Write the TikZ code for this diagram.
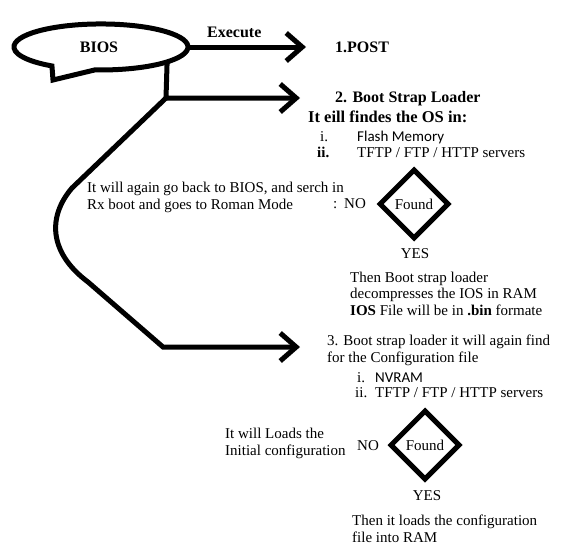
\documentclass[tikz,border=0pt]{standalone}
\usepackage{fontspec}
\setmainfont{Liberation Serif}
\newfontfamily\calfont{Carlito}
\usetikzlibrary{arrows.meta,shapes.geometric}
\begin{document}
\begin{tikzpicture}[x=1pt,y=-1pt,
  thickline/.style={line width=5pt},
  arr/.style={thickline,-{Straight Barb[length=16pt,width=28pt]}},
  txt/.style={inner sep=0pt,anchor=base west,font=\fontsize{15}{17}\selectfont,align=left},
  ctxt/.style={inner sep=0pt,anchor=base,font=\fontsize{15}{17}\selectfont},
  btxt/.style={inner sep=0pt,anchor=base west,font=\fontsize{16}{18}\selectfont\bfseries},
  stxt/.style={inner sep=0pt,anchor=base west,font=\calfont\fontsize{15}{17}\selectfont},
  decision/.style={diamond,draw,line width=5pt,minimum width=70pt,minimum height=70pt,inner sep=0pt,font=\fontsize{15}{17}\selectfont}]
\fill[white] (0,0) rectangle (562,554);
\useasboundingbox (0,0) rectangle (562,554);

% BIOS callout
\node[ellipse,minimum width=174pt,minimum height=46pt,inner sep=0pt,font=\fontsize{16}{18}\selectfont\bfseries] (bios) at (99,47) {BIOS};
\draw[thickline] (94.9,69.9) arc[start angle=94,end angle=-235.7,x radius=87,y radius=23] -- (53,80) -- cycle;

% connectors
\coordinate (t1) at (306,47);
\coordinate (j) at (166,98);
\coordinate (t2) at (300,98);
\coordinate (t3) at (300,347);
\draw[arr] (bios.east) -- (t1);
\draw[arr] (bios.-12) -- (j) -- (t2);
\draw[arr] (j) -- (72,188) .. controls (48,216) and (48,252) .. (88,282) -- (163,347) -- (t3);

\node[btxt] (exec) at (207,37) {Execute};
\node[btxt] (post) at (335,52) {1.POST};
\node[btxt] (bsl) at (335,102) {2. Boot Strap Loader};
\node[inner sep=0pt,anchor=base west,font=\fontsize{16.5}{18}\selectfont\bfseries] (finds) at (308,122) {It eill findes the OS in:};
\node[txt] (i1) at (320,141) {i.};
\node[stxt] (flash) at (357,141) {Flash Memory};
\node[btxt,font=\fontsize{15}{17}\selectfont\bfseries] (ii1) at (317,157) {ii.};
\node[txt] (srv1) at (357,157) {TFTP / FTP / HTTP servers};

\node[txt] (back) at (87,209) {It will again go back to BIOS, and serch in\\Rx boot and goes to Roman Mode};
\node[txt] (colon) at (333,208) {:};
\node[ctxt] (no1) at (355,208) {NO};
\node[decision] (d1) at (414,204) {Found};
\node[ctxt] (yes1) at (415,258) {YES};
\node[txt,font=\fontsize{15}{16.5}\selectfont] (then1) at (350,315) {Then Boot strap loader\\decompresses the IOS in RAM\\\textbf{IOS} File will be in \textbf{.bin} formate};

\node[txt] (step3) at (327,362) {3. Boot strap loader it will again find\\for the Configuration file};
\node[txt] (i2) at (357,382) {i.};
\node[stxt] (nvram) at (375,382) {NVRAM};
\node[txt] (ii2) at (355,397) {ii.};
\node[txt] (srv2) at (375,397) {TFTP / FTP / HTTP servers};
\node[decision] (d2) at (425,445) {Found};
\node[ctxt] (no2) at (368,450) {NO};
\node[txt] (init) at (225,455) {It will Loads the\\Initial configuration};
\node[ctxt] (yes2) at (427,500) {YES};
\node[txt] (then2) at (352,542) {Then it loads the configuration\\file into RAM};
\end{tikzpicture}
\end{document}
